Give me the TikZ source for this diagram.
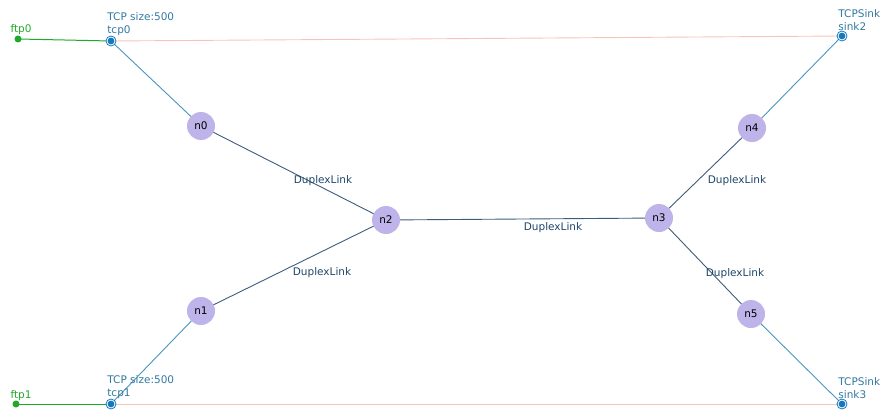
\documentclass[tikz,border=0pt]{standalone}
\usepackage{fontspec}
\setmainfont{DejaVu Sans}
\usepackage{xcolor}
\usetikzlibrary{positioning, backgrounds}

\definecolor{nodefill}{RGB}{190,180,234}
\definecolor{linkdark}{RGB}{62,92,122}
\definecolor{linklight}{RGB}{70,150,190}
\definecolor{agentblue}{RGB}{20,120,190}
\definecolor{agenttext}{RGB}{50,120,160}
\definecolor{linktext}{RGB}{30,70,105}
\definecolor{ftpgreen}{RGB}{30,170,40}
\definecolor{flowpink}{RGB}{248,196,186}

\begin{document}
\begin{tikzpicture}[x=1pt, y=-1pt,
    router/.style={circle, fill=nodefill, minimum size=28pt, inner sep=0pt,
      font=\fontsize{10.5}{12}\selectfont},
    tcpagent/.style={circle, draw=agentblue, line width=0.8pt, fill=white,
      minimum size=10pt, inner sep=0pt,
      path picture={\fill[agentblue] (path picture bounding box.center) circle (3.4pt);}},
    ftpagent/.style={circle, fill=ftpgreen, minimum size=7pt, inner sep=0pt},
    agentlbl/.style={inner sep=0pt, align=left, text=agenttext,
      font=\fontsize{10.5}{13.5}\selectfont},
    linklbl/.style={inner sep=0pt, text=linktext, font=\fontsize{10.5}{12}\selectfont},
    corelink/.style={draw=linkdark, line width=0.9pt},
    edgelink/.style={draw=linklight, line width=0.9pt}]
  \useasboundingbox (0,0) rectangle (883,412);

  % Routers
  \node[router] (n0) at (201,126) {n0};
  \node[router] (n1) at (201,311) {n1};
  \node[router] (n2) at (386,220) {n2};
  \node[router] (n3) at (659,218) {n3};
  \node[router] (n4) at (752,128) {n4};
  \node[router] (n5) at (751,314) {n5};

  % Agents
  \node[tcpagent] (tcp0) at (111,41) {};
  \node[tcpagent] (tcp1) at (111,404) {};
  \node[tcpagent] (sink2) at (842,36) {};
  \node[tcpagent] (sink3) at (842,404) {};
  \node[ftpagent] (ftp0) at (18,39) {};
  \node[ftpagent] (ftp1) at (16,404) {};

  % Agent labels
  \node[agentlbl, anchor=south west] (tcp0lbl) at ([yshift=1pt]tcp0.north west) {TCP size:500\\tcp0};
  \node[agentlbl, anchor=south west] (tcp1lbl) at ([yshift=1pt]tcp1.north west) {TCP size:500\\tcp1};
  \node[agentlbl, anchor=south west] (sink2lbl) at ([yshift=1pt]sink2.north west) {TCPSink\\sink2};
  \node[agentlbl, anchor=south west] (sink3lbl) at ([yshift=1pt]sink3.north west) {TCPSink\\sink3};
  \node[agentlbl, text=ftpgreen, anchor=south west] (ftp0lbl) at ([xshift=-5pt,yshift=1pt]ftp0.north west) {ftp0};
  \node[agentlbl, text=ftpgreen, anchor=south west] (ftp1lbl) at ([xshift=-3pt,yshift=1pt]ftp1.north west) {ftp1};

  % Link labels
  \node[linklbl] (l02) at (323,181) {DuplexLink};
  \node[linklbl] (l12) at (322,273) {DuplexLink};
  \node[linklbl] (l23) at (553,228) {DuplexLink};
  \node[linklbl] (l34) at (737,181) {DuplexLink};
  \node[linklbl] (l35) at (735,274) {DuplexLink};

  \begin{scope}[on background layer]
    % Flows
    \draw[flowpink, line width=0.9pt] (tcp0.center) -- (sink2.center);
    \draw[flowpink, line width=0.9pt] (tcp1.center) -- (sink3.center);
    \draw[ftpgreen, line width=1pt] (ftp0.center) -- (tcp0.center);
    \draw[ftpgreen, line width=1pt] (ftp1.center) -- (tcp1.center);

    % Links
    \draw[edgelink] (tcp0.center) -- (n0.center);
    \draw[edgelink] (tcp1.center) -- (n1.center);
    \draw[edgelink] (sink2.center) -- (n4.center);
    \draw[edgelink] (sink3.center) -- (n5.center);
    \draw[corelink] (n0.center) -- (n2.center);
    \draw[corelink] (n1.center) -- (n2.center);
    \draw[corelink] (n2.center) -- (n3.center);
    \draw[corelink] (n3.center) -- (n4.center);
    \draw[corelink] (n3.center) -- (n5.center);
  \end{scope}
\end{tikzpicture}
\end{document}
